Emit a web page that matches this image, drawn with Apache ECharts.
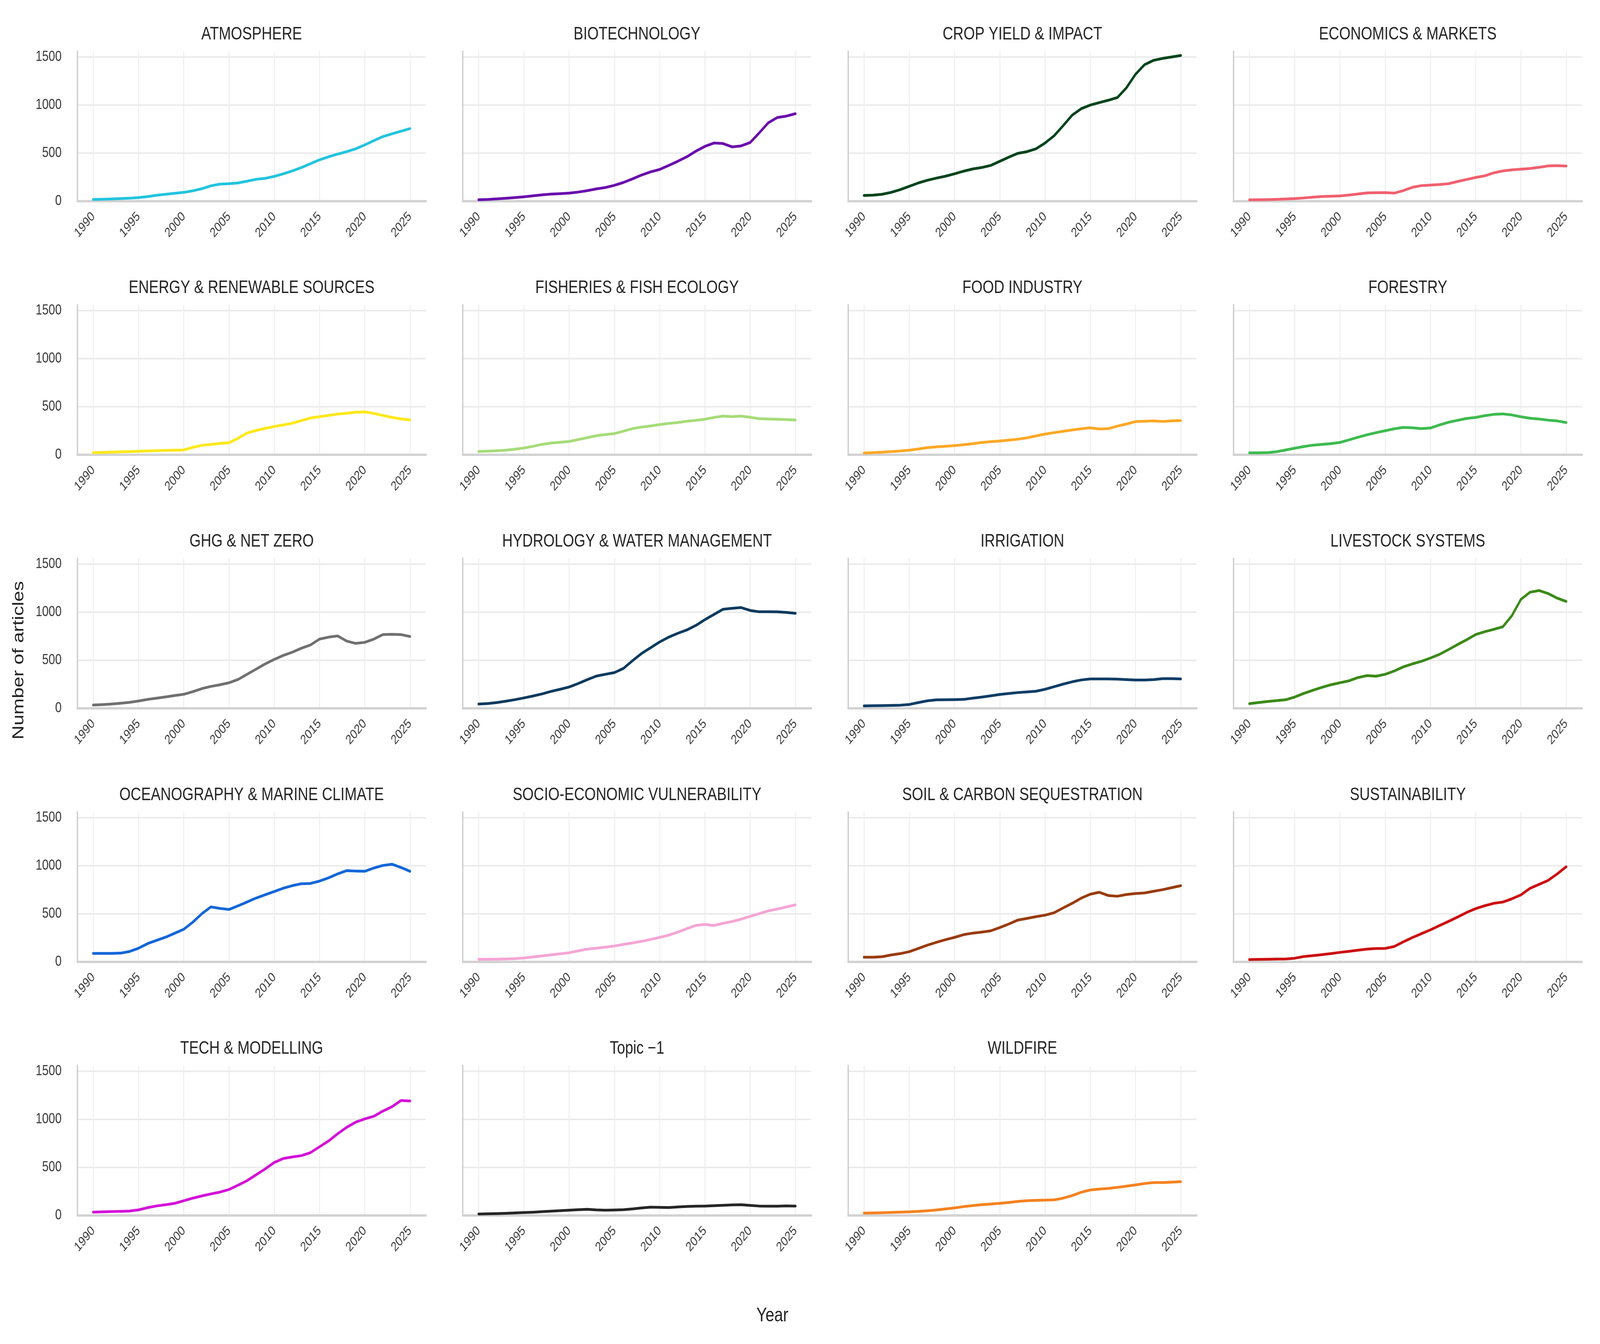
<!DOCTYPE html>
<html><head><meta charset="utf-8">
<script src="https://cdn.jsdelivr.net/npm/echarts@6/dist/echarts.min.js"></script>
<style>html,body{margin:0;padding:0;background:#fff;overflow:hidden}#c{width:5065px;height:3440px;transform-origin:0 0}</style>
</head><body><div id="c"></div>
<script>
const years = [1990,1991,1992,1993,1994,1995,1996,1997,1998,1999,2000,2001,2002,2003,2004,2005,2006,2007,2008,2009,2010,2011,2012,2013,2014,2015,2016,2017,2018,2019,2020,2021,2022,2023,2024,2025];
const topicNames = ['ATMOSPHERE','BIOTECHNOLOGY','CROP YIELD & IMPACT','ECONOMICS & MARKETS','ENERGY & RENEWABLE SOURCES','FISHERIES & FISH ECOLOGY','FOOD INDUSTRY','FORESTRY','GHG & NET ZERO','HYDROLOGY & WATER MANAGEMENT','IRRIGATION','LIVESTOCK SYSTEMS','OCEANOGRAPHY & MARINE CLIMATE','SOCIO-ECONOMIC VULNERABILITY','SOIL & CARBON SEQUESTRATION','SUSTAINABILITY','TECH & MODELLING','Topic \u22121','WILDFIRE'];
const yTicks = [0, 500, 1000, 1500];
const xTicks = [1990, 1995, 2000, 2005, 2010, 2015, 2020, 2025];

const atmosphere = [18,20,23,27,31,38,48,62,72,82,92,108,130,160,178,182,190,208,228,238,258,285,315,350,390,430,462,490,515,545,585,630,672,700,728,755];
const biotechnology = [15,18,24,30,38,46,56,66,74,78,84,95,110,128,142,165,195,232,272,305,330,372,415,462,520,570,605,600,565,575,610,710,815,870,885,910];
const cropYield = [60,63,72,92,120,155,190,218,240,260,285,312,335,350,372,415,458,498,515,545,605,680,785,895,962,1000,1025,1050,1078,1180,1320,1420,1465,1485,1500,1515];
const economics = [14,15,16,19,23,27,34,42,49,52,55,64,75,86,88,89,84,110,144,162,168,174,182,205,226,247,264,295,315,326,333,340,352,367,370,366];
const energy = [22,24,27,30,33,37,40,43,46,48,50,77,98,108,118,125,172,226,253,274,294,310,328,355,382,396,409,423,432,443,446,430,409,389,373,362];
const fisheries = [35,38,42,48,58,70,88,108,122,130,138,158,178,198,210,220,245,272,288,300,314,326,335,348,358,370,388,402,396,402,390,376,372,370,366,362];
const foodIndustry = [18,22,27,33,40,48,60,74,82,88,95,105,115,128,136,143,152,162,176,196,215,230,244,258,270,280,268,272,298,320,345,348,352,346,352,355];
const forestry = [20,20,22,32,50,68,85,100,108,116,128,155,182,208,230,250,270,284,280,272,278,310,338,358,378,388,406,420,425,414,395,380,372,360,352,335];
const ghg = [35,39,45,53,62,76,93,106,119,133,146,173,205,228,245,266,300,354,408,462,509,550,584,625,659,720,740,753,699,675,686,720,767,770,767,747];
const hydrology = [45,50,60,74,90,108,128,150,176,198,222,258,298,335,354,372,415,495,570,630,690,740,780,815,862,922,976,1030,1040,1048,1018,1004,1004,1003,997,988];
const irrigation = [25,27,28,30,33,40,60,78,88,89,90,93,106,117,130,144,154,164,171,178,198,225,252,276,295,306,306,306,304,299,295,295,299,309,309,306];
const livestock = [49,60,71,80,89,117,155,187,218,245,266,286,320,340,334,354,388,431,462,489,523,561,611,663,713,767,797,821,848,963,1133,1207,1225,1194,1146,1112];
const oceanography = [88,88,88,91,108,142,190,224,257,298,339,413,501,572,556,545,583,623,664,698,732,766,793,813,816,840,874,915,949,945,942,976,1003,1016,982,942];
const socioEconomic = [27,27,28,30,34,41,52,62,73,84,95,115,133,142,153,165,182,197,214,233,255,278,309,346,379,390,379,400,420,444,474,501,531,549,572,593];
const soilCarbon = [49,49,54,72,86,106,140,174,204,231,255,283,299,310,323,357,394,435,452,470,486,511,561,609,663,704,724,690,683,701,711,717,734,751,772,792];
const sustainability = [24,26,27,29,30,38,56,65,75,86,99,110,122,133,139,140,160,208,253,293,333,378,421,466,514,554,584,609,622,656,697,765,806,847,914,989];
const techModelling = [35,38,41,43,46,58,81,99,112,126,153,180,203,224,243,270,315,362,423,484,551,592,608,622,653,714,774,849,916,970,1004,1031,1085,1130,1195,1190];
const topicMinus1 = [15,17,19,22,26,30,34,40,45,50,55,60,64,58,55,57,60,68,78,86,84,82,88,93,96,98,102,106,110,112,105,98,96,96,100,98];
const wildfire = [24,26,28,31,35,38,43,49,57,68,78,92,103,112,119,126,135,146,153,157,159,162,180,207,241,265,274,281,292,305,318,332,342,342,346,351];

const seriesValues = [atmosphere, biotechnology, cropYield, economics, energy, fisheries, foodIndustry, forestry, ghg, hydrology, irrigation, livestock, oceanography, socioEconomic, soilCarbon, sustainability, techModelling, topicMinus1, wildfire];
const lineColors = ['#22C4DE','#6A0DAD','#00441B','#F0606F','#FFE81A','#A6DC78','#FFA826','#3DBB4F','#707070','#0B3A5E','#0E3D66','#3B8A17','#1266D9','#F5A5D5','#9A3B0C','#CC1010','#D411D8','#262626','#F58220'];

const FONT = '"Liberation Sans", Arial, Helvetica, sans-serif';
const DW = 5065, DH = 3440;
const COLS = 4, LEFT0 = 245, COLSTEP = 1220, GW = 1103, BOTTOM0 = 515, ROWSTEP = 649, GH = 384;

// fit the 5065x3440 design into the actual viewport
const el = document.getElementById('c');
const vw = window.innerWidth || DW, vh = window.innerHeight || DH;
const sx = vw / DW, sy = vh / DH;
if (Math.abs(sx - 1) > 0.002 || Math.abs(sy - 1) > 0.002) {
  el.style.transform = 'scale(' + sx + ',' + sy + ')';
}

const grids = [], xAxes = [], yAxes = [], series = [], titles = [];
topicNames.forEach((name, i) => {
  const r = Math.floor(i / COLS), c = i % COLS;
  const left = LEFT0 + c * COLSTEP;
  const top = BOTTOM0 + r * ROWSTEP - GH;
  grids.push({ left: left, top: top, width: GW, height: GH, containLabel: false });
  xAxes.push({
    type: 'value', gridIndex: i, min: 1988.25, max: 2026.75,
    minInterval: 5, maxInterval: 5, splitNumber: 8,
    axisLine: { show: true, onZero: false, lineStyle: { color: '#d2d2d2', width: 6 } },
    axisTick: { show: false },
    axisLabel: {
      show: true, rotate: 45, margin: 34, fontSize: 34, color: '#3a3a3a', fontFamily: FONT,
      showMinLabel: false, showMaxLabel: false,
      formatter: v => (xTicks.indexOf(v) >= 0 ? String(v) : '')
    },
    splitLine: { show: true, showMinLine: false, showMaxLine: false, lineStyle: { color: '#eeeeee', width: 3 } }
  });
  yAxes.push({
    type: 'value', gridIndex: i, min: 0, max: 1560, interval: 500,
    axisLine: { show: true, lineStyle: { color: '#cccccc', width: 4 } },
    axisTick: { show: false },
    axisLabel: {
      show: c === 0, margin: 50, fontSize: 37, color: '#3a3a3a', fontFamily: FONT,
      showMaxLabel: false,
      formatter: v => (yTicks.indexOf(v) >= 0 ? String(v) : '')
    },
    splitLine: { show: true, showMinLine: false, showMaxLine: false, lineStyle: { color: '#ebebeb', width: 4 } }
  });
  series.push({
    type: 'line', name: name, xAxisIndex: i, yAxisIndex: i,
    data: years.map((y, k) => [y, seriesValues[i][k]]),
    showSymbol: false, symbol: 'none', smooth: false,
    lineStyle: { color: lineColors[i], width: 7, cap: 'round', join: 'round' },
    itemStyle: { color: lineColors[i] },
    animation: false
  });
  titles.push({
    text: name, left: left + GW / 2, top: top - 66, textAlign: 'center', padding: 0,
    textStyle: { fontSize: 46, fontWeight: 'normal', color: '#222222', fontFamily: FONT }
  });
});

const chart = echarts.init(el, null, { renderer: 'canvas', width: DW, height: DH });
chart.setOption({
  backgroundColor: '#ffffff',
  animation: false,
  title: titles,
  grid: grids,
  xAxis: xAxes,
  yAxis: yAxes,
  series: series,
  graphic: [
    { type: 'text', x: 60, y: 1690, rotation: Math.PI / 2,
      style: { text: 'Number of articles', font: '50px ' + FONT, fill: '#222222', textAlign: 'center', textVerticalAlign: 'middle' } },
    { type: 'text', x: 2445, y: 3368,
      style: { text: 'Year', font: '50px ' + FONT, fill: '#222222', textAlign: 'center', textVerticalAlign: 'middle' } }
  ]
});
</script>
</body></html>
